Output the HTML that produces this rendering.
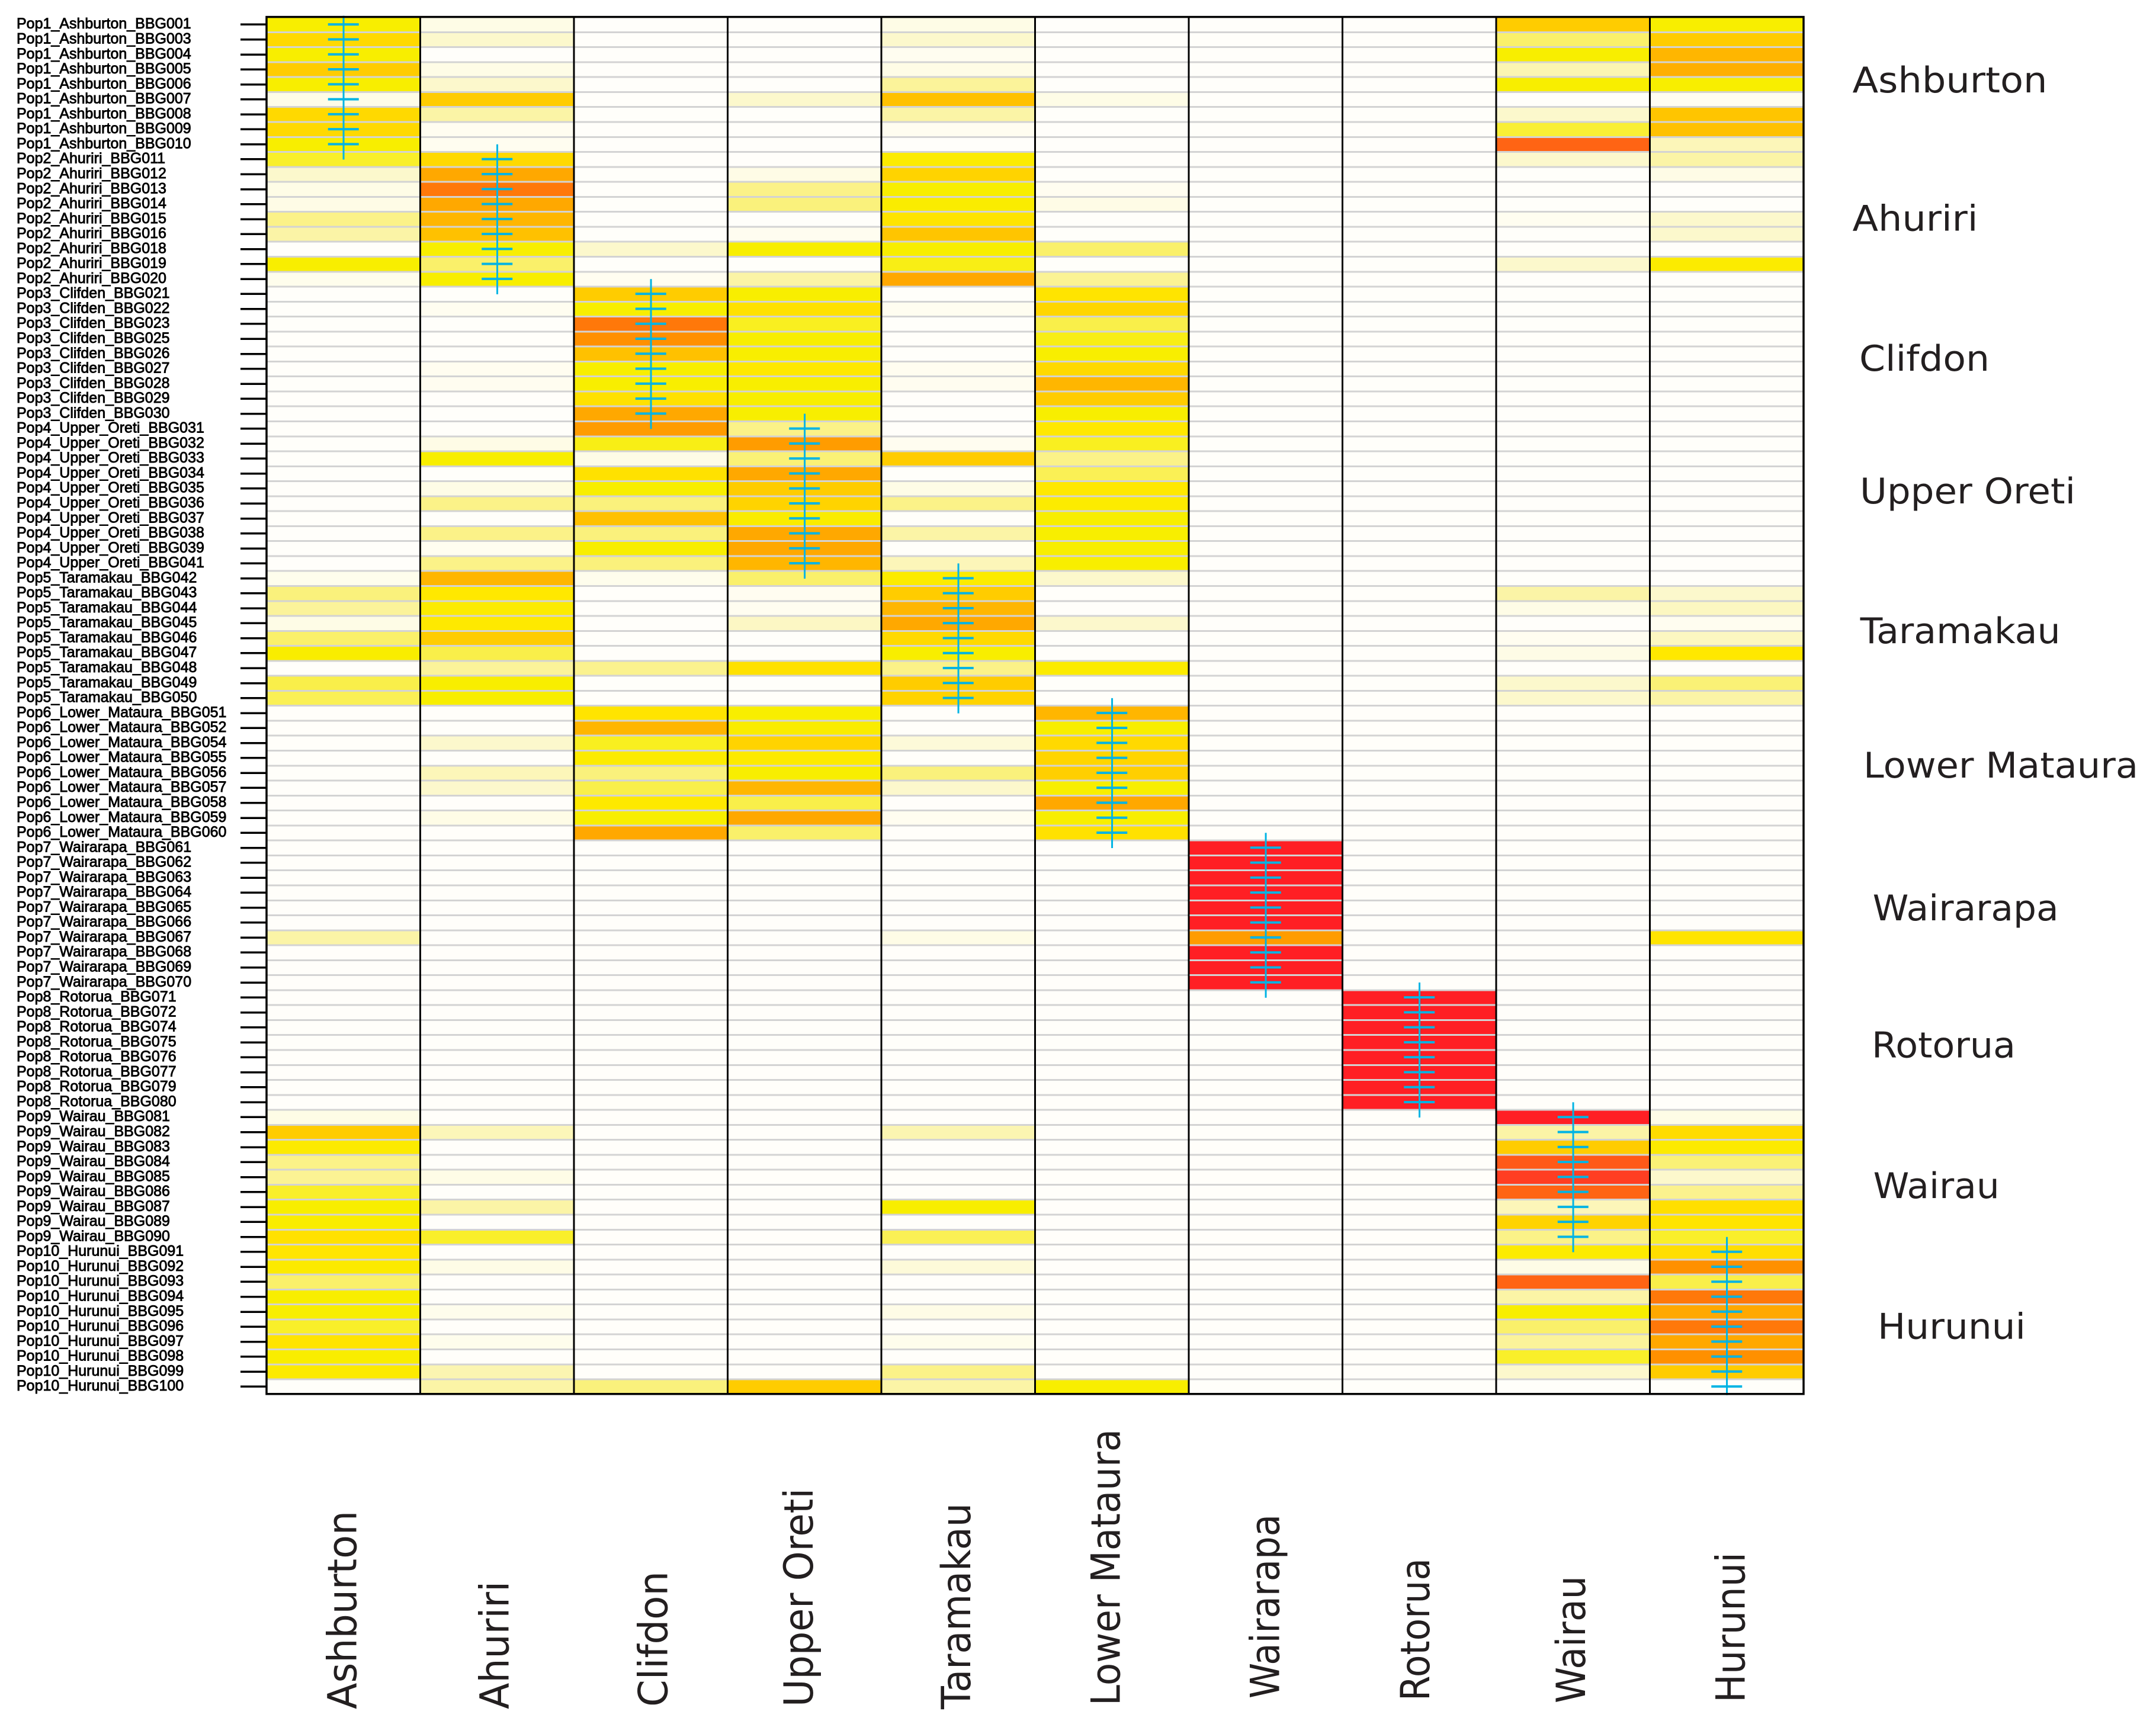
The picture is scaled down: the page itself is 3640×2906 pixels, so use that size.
<!DOCTYPE html>
<html lang="en">
<head>
<meta charset="utf-8">
<title>Population assignment heatmap</title>
<style>
  html, body { margin: 0; padding: 0; background: #ffffff; }
  #chart { display: block; width: 3640px; height: 2906px; }
  .row-label { font-family: "Liberation Sans", sans-serif; font-size: 25px; fill: #000; stroke: #000; stroke-width: 0.9px; }
  .side-label, .col-label { font-family: "DejaVu Sans", "Liberation Sans", sans-serif; fill: #231f20; }
  .side-label { font-size: 60px; }
  .col-label { font-size: 68px; }
</style>
</head>
<body>
<svg id="chart" xmlns="http://www.w3.org/2000/svg" width="3640" height="2906" viewBox="0 0 3640 2906">
  <rect x="0" y="0" width="3640" height="2906" fill="#ffffff"/>
  <g id="cells" shape-rendering="crispEdges"></g>
  <g id="grid" shape-rendering="crispEdges"></g>
  <g id="dividers" shape-rendering="crispEdges"></g>
  <g id="crosses"></g>
  <g id="ticks" shape-rendering="crispEdges"></g>
  <g id="rowlabels"></g>
  <rect id="frame" fill="none" stroke="#000" stroke-width="3.5"/>

  <g>
    <text class="side-label" x="3127.5" y="156" textLength="329" lengthAdjust="spacingAndGlyphs">Ashburton</text>
    <text class="side-label" x="3127.5" y="389.7" textLength="212" lengthAdjust="spacingAndGlyphs">Ahuriri</text>
    <text class="side-label" x="3139" y="626" textLength="220" lengthAdjust="spacingAndGlyphs">Clifdon</text>
    <text class="side-label" x="3140" y="850" textLength="364" lengthAdjust="spacingAndGlyphs">Upper Oreti</text>
    <text class="side-label" x="3140.6" y="1086" textLength="338" lengthAdjust="spacingAndGlyphs">Taramakau</text>
    <text class="side-label" x="3146" y="1313" textLength="464" lengthAdjust="spacingAndGlyphs">Lower Mataura</text>
    <text class="side-label" x="3161.7" y="1554" textLength="314" lengthAdjust="spacingAndGlyphs">Wairarapa</text>
    <text class="side-label" x="3160" y="1785.6" textLength="243" lengthAdjust="spacingAndGlyphs">Rotorua</text>
    <text class="side-label" x="3162.7" y="2022.8" textLength="213" lengthAdjust="spacingAndGlyphs">Wairau</text>
    <text class="side-label" x="3170" y="2260.6" textLength="250" lengthAdjust="spacingAndGlyphs">Hurunui</text>
  </g>

  <g>
    <text class="col-label" transform="translate(601.5,2886) rotate(-90)" textLength="335" lengthAdjust="spacingAndGlyphs">Ashburton</text>
    <text class="col-label" transform="translate(858.6,2886) rotate(-90)" textLength="216" lengthAdjust="spacingAndGlyphs">Ahuriri</text>
    <text class="col-label" transform="translate(1126.5,2882) rotate(-90)" textLength="229" lengthAdjust="spacingAndGlyphs">Clifdon</text>
    <text class="col-label" transform="translate(1372,2882) rotate(-90)" textLength="369" lengthAdjust="spacingAndGlyphs">Upper Oreti</text>
    <text class="col-label" transform="translate(1638,2886) rotate(-90)" textLength="348" lengthAdjust="spacingAndGlyphs">Taramakau</text>
    <text class="col-label" transform="translate(1890.7,2880) rotate(-90)" textLength="467" lengthAdjust="spacingAndGlyphs">Lower Mataura</text>
    <text class="col-label" transform="translate(2159.4,2868) rotate(-90)" textLength="311" lengthAdjust="spacingAndGlyphs">Wairarapa</text>
    <text class="col-label" transform="translate(2413,2872) rotate(-90)" textLength="241" lengthAdjust="spacingAndGlyphs">Rotorua</text>
    <text class="col-label" transform="translate(2676,2876) rotate(-90)" textLength="215" lengthAdjust="spacingAndGlyphs">Wairau</text>
    <text class="col-label" transform="translate(2945.4,2875) rotate(-90)" textLength="254" lengthAdjust="spacingAndGlyphs">Hurunui</text>
  </g>
</svg>

<script>
// Row labels (top to bottom)
const rowLabels = [
  "Pop1_Ashburton_BBG001","Pop1_Ashburton_BBG003","Pop1_Ashburton_BBG004","Pop1_Ashburton_BBG005","Pop1_Ashburton_BBG006","Pop1_Ashburton_BBG007","Pop1_Ashburton_BBG008","Pop1_Ashburton_BBG009","Pop1_Ashburton_BBG010",
  "Pop2_Ahuriri_BBG011","Pop2_Ahuriri_BBG012","Pop2_Ahuriri_BBG013","Pop2_Ahuriri_BBG014","Pop2_Ahuriri_BBG015","Pop2_Ahuriri_BBG016","Pop2_Ahuriri_BBG018","Pop2_Ahuriri_BBG019","Pop2_Ahuriri_BBG020",
  "Pop3_Clifden_BBG021","Pop3_Clifden_BBG022","Pop3_Clifden_BBG023","Pop3_Clifden_BBG025","Pop3_Clifden_BBG026","Pop3_Clifden_BBG027","Pop3_Clifden_BBG028","Pop3_Clifden_BBG029","Pop3_Clifden_BBG030",
  "Pop4_Upper_Oreti_BBG031","Pop4_Upper_Oreti_BBG032","Pop4_Upper_Oreti_BBG033","Pop4_Upper_Oreti_BBG034","Pop4_Upper_Oreti_BBG035","Pop4_Upper_Oreti_BBG036","Pop4_Upper_Oreti_BBG037","Pop4_Upper_Oreti_BBG038","Pop4_Upper_Oreti_BBG039","Pop4_Upper_Oreti_BBG041",
  "Pop5_Taramakau_BBG042","Pop5_Taramakau_BBG043","Pop5_Taramakau_BBG044","Pop5_Taramakau_BBG045","Pop5_Taramakau_BBG046","Pop5_Taramakau_BBG047","Pop5_Taramakau_BBG048","Pop5_Taramakau_BBG049","Pop5_Taramakau_BBG050",
  "Pop6_Lower_Mataura_BBG051","Pop6_Lower_Mataura_BBG052","Pop6_Lower_Mataura_BBG054","Pop6_Lower_Mataura_BBG055","Pop6_Lower_Mataura_BBG056","Pop6_Lower_Mataura_BBG057","Pop6_Lower_Mataura_BBG058","Pop6_Lower_Mataura_BBG059","Pop6_Lower_Mataura_BBG060",
  "Pop7_Wairarapa_BBG061","Pop7_Wairarapa_BBG062","Pop7_Wairarapa_BBG063","Pop7_Wairarapa_BBG064","Pop7_Wairarapa_BBG065","Pop7_Wairarapa_BBG066","Pop7_Wairarapa_BBG067","Pop7_Wairarapa_BBG068","Pop7_Wairarapa_BBG069","Pop7_Wairarapa_BBG070",
  "Pop8_Rotorua_BBG071","Pop8_Rotorua_BBG072","Pop8_Rotorua_BBG074","Pop8_Rotorua_BBG075","Pop8_Rotorua_BBG076","Pop8_Rotorua_BBG077","Pop8_Rotorua_BBG079","Pop8_Rotorua_BBG080",
  "Pop9_Wairau_BBG081","Pop9_Wairau_BBG082","Pop9_Wairau_BBG083","Pop9_Wairau_BBG084","Pop9_Wairau_BBG085","Pop9_Wairau_BBG086","Pop9_Wairau_BBG087","Pop9_Wairau_BBG089","Pop9_Wairau_BBG090",
  "Pop10_Hurunui_BBG091","Pop10_Hurunui_BBG092","Pop10_Hurunui_BBG093","Pop10_Hurunui_BBG094","Pop10_Hurunui_BBG095","Pop10_Hurunui_BBG096","Pop10_Hurunui_BBG097","Pop10_Hurunui_BBG098","Pop10_Hurunui_BBG099","Pop10_Hurunui_BBG100"
];

// Number of individuals in each population, in row order
const popSizes = [9, 9, 9, 10, 9, 9, 10, 8, 9, 10];

// Assignment intensity for each column (0 = none, 15 = full), one value per row
const ashburton = [
  5,7,5,8,5,1,7,7,5,
  4.6,2,1,1,3.5,3,0,5,0.7,
  0,0,0,0,0,0,0,0,0,
  0,0,0,0,0,0,0,0,0,0,
  0.7,3.7,3.2,1,4,5.2,0,4.3,4.2,
  0,0,0,0,0,0,0,0,0,
  0,0,0,0,0,0,3,0,0,0,
  0,0,0,0,0,0,0,0,
  1,8,5.6,3.5,3.3,4.6,5,5.1,6.5,
  6.2,5.6,4,5,5,4.6,6.3,5.2,5.6,0
];
const ahuriri = [
  1,2,0,1,2,8,3,0.5,0.5,
  7,10,12,10,9,8.5,5,4,5,
  0,0.5,0,0,0,0.5,0.5,0,0,
  0,1,5,0,1,3.5,0,3.5,0.5,3.5,
  9,6,5.5,5.8,8,4.3,3.2,5,5,
  0,0,2,0,2.5,2,0,1,0,
  0,0,0,0,0,0,0,0,0,0,
  0,0,0,0,0,0,0,0,
  0,2.5,0,0,1,0,3,0,4.6,
  0,1,0,0,0.7,0,0.7,0,2.7,3
];
const clifdon = [
  0,0,0,0,0,0,0,0,0,
  0,0,0,0,0,0,2,0,0.5,
  8,5,12,11,8.5,5,5,6.5,10,
  10.5,4.8,1,6.5,5,3.7,8.5,3.7,5,3.7,
  0.7,0,0,0,0,0,3.4,0,0,
  6.3,9,4.7,5.5,3.7,4.3,5.8,5,10,
  0,0,0,0,0,0,0,0,0,0,
  0,0,0,0,0,0,0,0,
  0,0,0,0,0,0,0,0,0,
  0,0,0,0,0,0,0,0,0,3.7
];
const upperOreti = [
  0,0,0,0,0,2,0,0,0,
  0,1,3.5,3.7,0,0.5,5,0,3,
  5,6.5,4.7,5,5,6,5,5,5,
  3.5,10.5,3.8,10,8,7.5,5.3,10,10,9,
  4,0.5,0.5,2.2,0,0,6.5,0,0,
  5,5.3,7.5,5.7,5,9,4.3,10,4,
  0,0,0,0,0,0,0,0,0,0,
  0,0,0,0,0,0,0,0,
  0,0,0,0,0,0,0,0,0,
  0,0,0,0,0,0,0,0,0,8
];
const taramakau = [
  1,2,0.5,1,3.2,8.5,3,0.5,0,
  5.5,7.5,5,5.3,6.3,8.3,5,4.8,10,
  0,0.5,0,0,0,0.5,0.5,0,0,
  0,0.5,8,0,1,3.5,0,3,0,2.5,
  5.5,8,9,10,7,5,3.5,8,7.5,
  0,0,1.5,0,3.7,2,0,0.5,0,
  0,0,0,0,0,0,1,0,0,0,
  0,0,0,0,0,0,0,0,
  0,2.7,0,0,0,0,5,0,4.2,
  0,1.5,0,0,1,0,0.7,0,3.5,3
];
const lowerMataura = [
  0,0,0,0,0,1,0,0,0,
  0,0,0.5,1,0,0,4,0,3.3,
  6.3,7.2,4.3,4.8,5,7,9,8,5,
  6,4.7,3.5,4.2,6,5.5,5,5,5,5,
  2,0,0,2,0,0,5.5,0,0,
  9,5,7,7.3,7.8,5,10,5,6.5,
  0,0,0,0,0,0,0,0,0,0,
  0,0,0,0,0,0,0,0,
  0,0,0,0,0,0,0,0,0,
  0,0,0,0,0,0,0,0,0,5
];
const wairarapa = [
  0,0,0,0,0,0,0,0,0,
  0,0,0,0,0,0,0,0,0,
  0,0,0,0,0,0,0,0,0,
  0,0,0,0,0,0,0,0,0,0,
  0,0,0,0,0,0,0,0,0,
  0,0,0,0,0,0,0,0,0,
  15,15,15,15,15,15,10.5,15,15,15,
  0,0,0,0,0,0,0,0,
  0,0,0,0,0,0,0,0,0,
  0,0,0,0,0,0,0,0,0,0
];
const rotorua = [
  0,0,0,0,0,0,0,0,0,
  0,0,0,0,0,0,0,0,0,
  0,0,0,0,0,0,0,0,0,
  0,0,0,0,0,0,0,0,0,0,
  0,0,0,0,0,0,0,0,0,
  0,0,0,0,0,0,0,0,0,
  0,0,0,0,0,0,0,0,0,0,
  15,15,15,15,15,15,15,15,
  0,0,0,0,0,0,0,0,0,
  0,0,0,0,0,0,0,0,0,0
];
const wairau = [
  8,4,5,2.7,5,0,2,4.5,13,
  2,0,0,0,0.5,0,0,2,0,
  0,0,0,0,0,0,0,0,0,
  0,0,0,0,0,0,0,0,0,0,
  0,3,1,0,0.5,1,0,2,2,
  0,0,0,0,0,0,0,0,0,
  0,0,0,0,0,0,0,0,0,0,
  0,0,0,0,0,0,0,0,
  15,3,8,13.3,14,13,2.5,7.5,3.5,
  5.5,1,13,3,5,4,3.2,4.6,2,0
];
const hurunui = [
  5,8,9,9.5,5,0.5,8.3,8.5,2.5,
  3,1,0,0,2,2,0,5.5,0,
  0,0,0,0,0,0,0,0,0,
  0,0,0,0,0,0,0,0,0,0,
  0,2,2.3,0.5,2.3,6,0,3.8,3,
  0,0,0,0,0,0,0,0,0,
  0,0,0,0,0,0,6.3,0,0,0,
  0,0,0,0,0,0,0,0,
  1,6.8,5.6,3.8,2,3.4,6.6,6.3,4.6,
  6.7,11,4.3,12,10,12,10,11,8,0
];
const columnValues = [ashburton, ahuriri, clifdon, upperOreti, taramakau, lowerMataura, wairarapa, rotorua, wairau, hurunui];

// Layout
const plotLeft = 450, plotRight = 3045, plotTop = 28.6, plotBottom = 2353.8;
const colScale = i => plotLeft + i * (plotRight - plotLeft) / columnValues.length;
const rowScale = i => plotTop + i * (plotBottom - plotTop) / rowLabels.length;
const rowCenter = i => rowScale(i + 0.5);
const colCenter = i => colScale(i + 0.5);

// Colour ramp: intensity 0..15 maps onto these stops
const rampStops = ["#fffefa","#fefce6","#fcf8cc","#fbf4a6","#faf06a","#f8ee00","#ffe800","#ffd900","#ffcc00","#ffb600","#ffa800","#ff9000","#ff780a","#ff6414","#ff3e22","#ff1f24"];
function hexRgb(h) { return [1, 3, 5].map(p => parseInt(h.substr(p, 2), 16)); }
function colorFor(v) {
  const t = Math.max(0, Math.min(rampStops.length - 1, v));
  const lo = Math.floor(t), hi = Math.min(rampStops.length - 1, lo + 1), f = t - lo;
  const a = hexRgb(rampStops[lo]), b = hexRgb(rampStops[hi]);
  return "rgb(" + a.map((c, k) => Math.round(c + (b[k] - c) * f)).join(",") + ")";
}

const NS = "http://www.w3.org/2000/svg";
function make(tag, parentId) {
  const el = document.createElementNS(NS, tag);
  document.getElementById(parentId).appendChild(el);
  return el;
}
function setRect(el, x, y, w, h, fill) {
  el.setAttribute("x", x);
  el.setAttribute("y", y);
  el.setAttribute("width", w);
  el.setAttribute("height", h);
  el.setAttribute("fill", fill);
}

// Heatmap cells
columnValues.forEach((series, c) => {
  series.forEach((v, r) => {
    const cell = make("rect", "cells");
    
    
    setRect(cell, colScale(c), rowScale(r), colScale(c + 1) - colScale(c), rowScale(r + 1) - rowScale(r), colorFor(v));
  });
});

// Grey row separators
rowLabels.forEach((name, r) => {
  if (r === rowLabels.length - 1) return;
  const line = make("rect", "grid");
  
  
  setRect(line, plotLeft, rowScale(r + 1) - 1, plotRight - plotLeft, 3, "#d3d3d3");
});

// Column dividers
for (let c = 1; c < columnValues.length; c++) {
  const div = make("rect", "dividers");
  
  
  setRect(div, colScale(c) - 1.5, plotTop, 3, plotBottom - plotTop, "#000000");
}

// Y-axis ticks and labels
rowLabels.forEach((name, r) => {
  const tick = make("rect", "ticks");
  
  
  setRect(tick, 406, rowCenter(r) - 1.5, plotLeft - 406, 3.5, "#000000");

  const label = make("text", "rowlabels");
  
  
  label.setAttribute("class", "row-label");
  label.setAttribute("x", 28);
  label.setAttribute("y", rowCenter(r) + 7);
  label.textContent = name;
});

// Population markers: one vertical line per population, one bar per individual
let firstRow = 0;
popSizes.forEach((size, p) => {
  const lastRow = firstRow + size - 1;
  const x = colCenter(p);
  const stem = make("rect", "crosses");
  
  
  const y0 = Math.max(plotTop - 2, rowCenter(firstRow) - 25);
  const y1 = Math.min(plotBottom + 2, rowCenter(lastRow) + 26);
  setRect(stem, x - 1.2, y0, 3, y1 - y0, "#00b4e4");
  for (let r = firstRow; r <= lastRow; r++) {
    const bar = make("rect", "crosses");
    
    
    setRect(bar, x - 26, rowCenter(r) - 2, 52, 4, "#00b4e4");
  }
  firstRow = lastRow + 1;
});

// Plot frame
const frame = document.getElementById("frame");
frame.setAttribute("x", plotLeft);
frame.setAttribute("y", plotTop);
frame.setAttribute("width", plotRight - plotLeft);
frame.setAttribute("height", plotBottom - plotTop);
</script>
</body>
</html>
